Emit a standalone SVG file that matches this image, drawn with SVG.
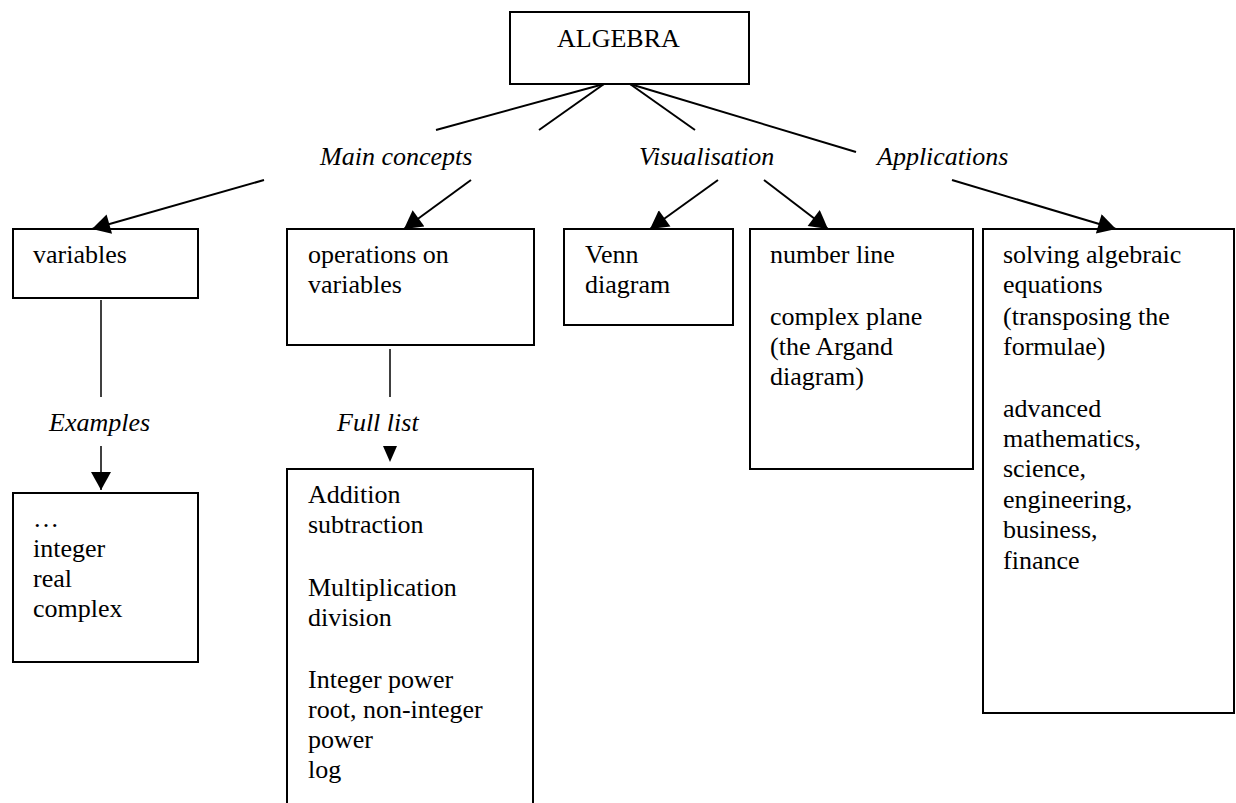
<svg xmlns="http://www.w3.org/2000/svg" width="1236" height="803" viewBox="0 0 1236 803">
<style>
text{font-family:"Liberation Serif","Times New Roman",serif;font-size:26px;fill:#000}
.it{font-style:italic}
.box{fill:#fff;stroke:#000;stroke-width:2}
.con{stroke:#000;stroke-width:2;fill:none}
.thin{stroke:#000;stroke-width:1.5;fill:none}
</style>
<defs>
<marker id="ah" markerUnits="userSpaceOnUse" markerWidth="20" markerHeight="20" viewBox="0 0 18 20" refX="18" refY="10" orient="auto">
<path d="M0,0 L18,10 L0,20 Z" fill="#000"/>
</marker>
</defs>
<g id="algebra"><rect class="box" x="510" y="12" width="239" height="72"/><text x="557" y="47">ALGEBRA</text></g>
<g id="main-concepts"><text class="it" x="320" y="165">Main concepts</text></g>
<g id="visualisation"><text class="it" x="639" y="165">Visualisation</text></g>
<g id="applications"><text class="it" x="877" y="165">Applications</text></g>
<g id="variables"><rect class="box" x="13" y="229" width="185" height="69"/><text x="33" y="263">variables</text></g>
<g id="operations"><rect class="box" x="287" y="229" width="247" height="116"/><text x="308" y="263">operations on</text><text x="308" y="293">variables</text></g>
<g id="venn"><rect class="box" x="564" y="229" width="169" height="96"/><text x="585" y="263">Venn</text><text x="585" y="293">diagram</text></g>
<g id="numberline"><rect class="box" x="750" y="229" width="223" height="240"/><text x="770" y="263">number line</text><text x="770" y="325">complex plane</text><text x="770" y="355">(the Argand</text><text x="770" y="385">diagram)</text></g>
<g id="apps-box"><rect class="box" x="983" y="229" width="251" height="484"/><text x="1003" y="263">solving algebraic</text><text x="1003" y="293">equations</text><text x="1003" y="325">(transposing the</text><text x="1003" y="355">formulae)</text><text x="1003" y="417">advanced</text><text x="1003" y="447">mathematics,</text><text x="1003" y="477">science,</text><text x="1003" y="508">engineering,</text><text x="1003" y="538">business,</text><text x="1003" y="569">finance</text></g>
<g id="examples-label"><text class="it" x="49" y="431">Examples</text></g>
<g id="fulllist-label"><text class="it" x="337" y="431">Full list</text></g>
<g id="examples-box"><rect class="box" x="13" y="493" width="185" height="169"/><text x="33" y="527">…</text><text x="33" y="557">integer</text><text x="33" y="587">real</text><text x="33" y="617">complex</text></g>
<g id="fulllist-box"><path class="box" d="M287,810 L287,469 L533,469 L533,810"/><text x="308" y="503">Addition</text><text x="308" y="533">subtraction</text><text x="308" y="596">Multiplication</text><text x="308" y="626">division</text><text x="308" y="688">Integer power</text><text x="308" y="718">root, non-integer</text><text x="308" y="748">power</text><text x="308" y="778">log</text></g>
<g id="connectors">
<line class="con" x1="604" y1="84" x2="436" y2="130"/>
<line class="con" x1="604" y1="84" x2="539" y2="130"/>
<line class="con" x1="630" y1="84" x2="695" y2="130"/>
<line class="con" x1="630" y1="84" x2="856" y2="152"/>
<line class="con" x1="264" y1="180" x2="92" y2="229" marker-end="url(#ah)"/>
<line class="con" x1="471" y1="180" x2="404" y2="229" marker-end="url(#ah)"/>
<line class="con" x1="718" y1="180" x2="650" y2="229" marker-end="url(#ah)"/>
<line class="con" x1="764" y1="180" x2="828" y2="229" marker-end="url(#ah)"/>
<line class="con" x1="952" y1="180" x2="1116" y2="229" marker-end="url(#ah)"/>
<line class="thin" x1="101" y1="300" x2="101" y2="397"/>
<line class="thin" x1="390" y1="349" x2="390" y2="397"/>
<line class="thin" x1="101" y1="446" x2="101" y2="490" marker-end="url(#ah)"/>
<path d="M383,446 L397,446 L390,462 Z" fill="#000"/>
</g>
</svg>
